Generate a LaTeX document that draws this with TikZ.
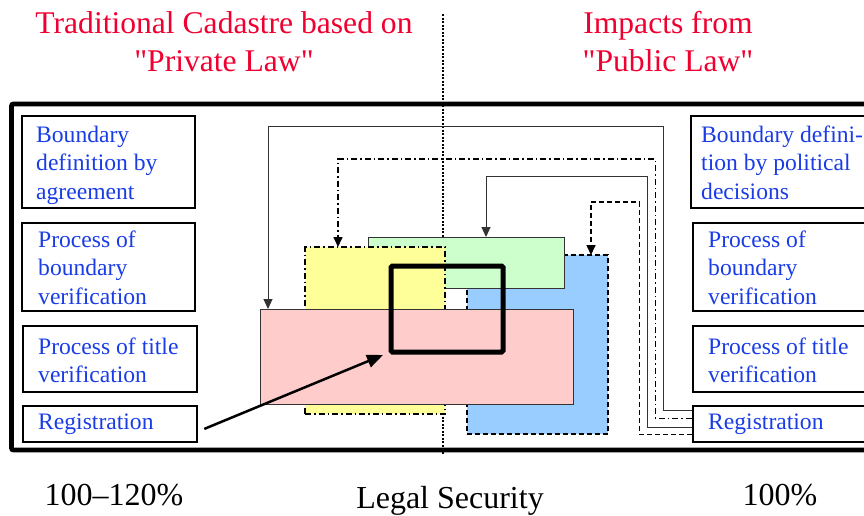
\documentclass[tikz,border=0pt]{standalone}
\usepackage{fontspec}
\setmainfont{Liberation Serif}
\usetikzlibrary{arrows.meta,calc}

\definecolor{titlered}{RGB}{240,0,48}
\definecolor{labelblue}{RGB}{25,60,230}
\definecolor{boxgreen}{RGB}{204,255,204}
\definecolor{boxyellow}{RGB}{255,255,153}
\definecolor{boxblue}{RGB}{153,204,255}
\definecolor{boxpink}{RGB}{255,204,204}

% stacked lines whose reference point is the first baseline
\newcommand\flushlines[1]{\vtop{\halign{##\hfil\cr#1\crcr}}}
\newcommand\centerlines[1]{\vtop{\halign{\hfil##\hfil\cr#1\crcr}}}

\begin{document}
\begin{tikzpicture}[x=1pt,y=-1pt,
  sidebox/.style={draw=black, line width=2.8pt, rectangle, inner sep=0pt, anchor=north west},
  sidetext/.style={font=\fontsize{23.6}{28.5}\selectfont, text=labelblue, inner sep=0pt, anchor=base west},
  title/.style={font=\fontsize{31.6}{38}\selectfont, text=titlered, inner sep=0pt, anchor=base},
  footer/.style={font=\fontsize{32}{38}\selectfont, inner sep=0pt, anchor=base},
  area/.style={rectangle, inner sep=0pt, outer sep=0pt, anchor=north west},
  tip/.style={-{Triangle[width=9pt,length=10pt]}},
  solidlink/.style={tip, draw=black!80, line width=1pt},
  dashdotlink/.style={tip, draw=black, line width=1.6pt, dash pattern=on 6pt off 3pt on 1.5pt off 3pt},
  dashedlink/.style={tip, draw=black, line width=1.6pt, dash pattern=on 5pt off 3pt},
  divider/.style={draw=black, line width=1.2pt, dash pattern=on 2pt off 1.5pt},
]
\useasboundingbox (0,0) rectangle (864,515);
\clip (0,0) rectangle (864,515);

% separating line between the two halves
\draw[divider] (443,14) -- (443,455);

% outer frame
\draw[line width=4.8pt, rounded corners=2pt] (11.5,104) rectangle (890,450);

% left column
\node[sidebox, minimum width=173pt, minimum height=92pt] (L1) at (20.5,114.5) {};
\node[sidebox, minimum width=173pt, minimum height=88pt] (L2) at (20.5,221.5) {};
\node[sidebox, minimum width=174pt, minimum height=66pt] (L3) at (21.5,324.5) {};
\node[sidebox, minimum width=174pt, minimum height=36pt] (L4) at (21.5,404.5) {};
\node[sidetext] (L1t) at (36,142) {\flushlines{Boundary\cr definition by\cr agreement}};
\node[sidetext] (L2t) at (38,247) {\flushlines{Process of\cr boundary\cr verification}};
\node[sidetext] (L3t) at (38,354) {\flushlines{Process of title\cr verification}};
\node[sidetext] (L4t) at (38,429) {Registration};

% right column
\node[sidebox, minimum width=220pt, minimum height=92pt] (R1) at (689.5,114.5) {};
\node[sidebox, minimum width=220pt, minimum height=88pt] (R2) at (691.5,221.5) {};
\node[sidebox, minimum width=220pt, minimum height=66pt] (R3) at (691.5,324.5) {};
\node[sidebox, minimum width=220pt, minimum height=36pt] (R4) at (691.5,404.5) {};
\node[sidetext] (R1t) at (701,142) {\flushlines{Boundary defini-\cr tion by political\cr decisions}};
\node[sidetext] (R2t) at (708,247) {\flushlines{Process of\cr boundary\cr verification}};
\node[sidetext] (R3t) at (708,354) {\flushlines{Process of title\cr verification}};
\node[sidetext] (R4t) at (708,429) {Registration};

% overlapping areas
\node[area, fill=boxblue, draw=black, line width=1.6pt, dash pattern=on 5pt off 3pt,
      minimum width=141pt, minimum height=179pt] (blue) at (467,255) {};
\node[area, fill=boxgreen, draw=black!80, line width=1pt,
      minimum width=196pt, minimum height=51pt] (green) at (368,237) {};
\node[area, fill=boxyellow, draw=black, line width=1.6pt, dash pattern=on 6pt off 3pt on 1.5pt off 3pt,
      minimum width=140pt, minimum height=167pt] (yellow) at (305,247) {};
\node[area, fill=boxpink, draw=black!80, line width=1pt,
      minimum width=313pt, minimum height=95pt] (pink) at (260,309) {};
\node[area, draw=black, line width=5pt, rounded corners=1.5pt,
      minimum width=112pt, minimum height=86pt] (focus) at (391,266) {};

% links from the registration on the right
\draw[solidlink] ([yshift=-6pt]R4.north west) -- ++(-28,0) |- (268,126) -- ([xshift=8pt]pink.north west);
\draw[dashdotlink] ([yshift=-14pt]R4.north west) -- ++(-36,0) |- (338,159) -- ([xshift=33pt]yellow.north west);
\draw[solidlink] ([yshift=-23pt]R4.north west) -- ++(-44,0) |- (486,176) -- ([xshift=118pt]green.north west);
\draw[dashedlink] ([yshift=-30pt]R4.north west) -- ++(-52,0) |- (591,202) -- ([xshift=124pt]blue.north west);

% link from the registration on the left
\draw[line width=2.5pt, -{Triangle[width=13pt,length=16pt]}]
  ([shift={(6,5)}]L4.east) -- ([shift={(-8,3)}]focus.south west);

% headings
\node[title] (tl) at (224,33) {\centerlines{Traditional Cadastre based on\cr \textquotedbl Private Law\textquotedbl}};
\node[title] (tr) at (668,33) {\centerlines{Impacts from\cr \textquotedbl Public Law\textquotedbl}};

% footer
\node[footer] (pl) at (114,505) {100\textendash120\%};
\node[footer] (ls) at (450,508) {Legal Security};
\node[footer] (pr) at (780,505) {100\%};
\end{tikzpicture}
\end{document}
